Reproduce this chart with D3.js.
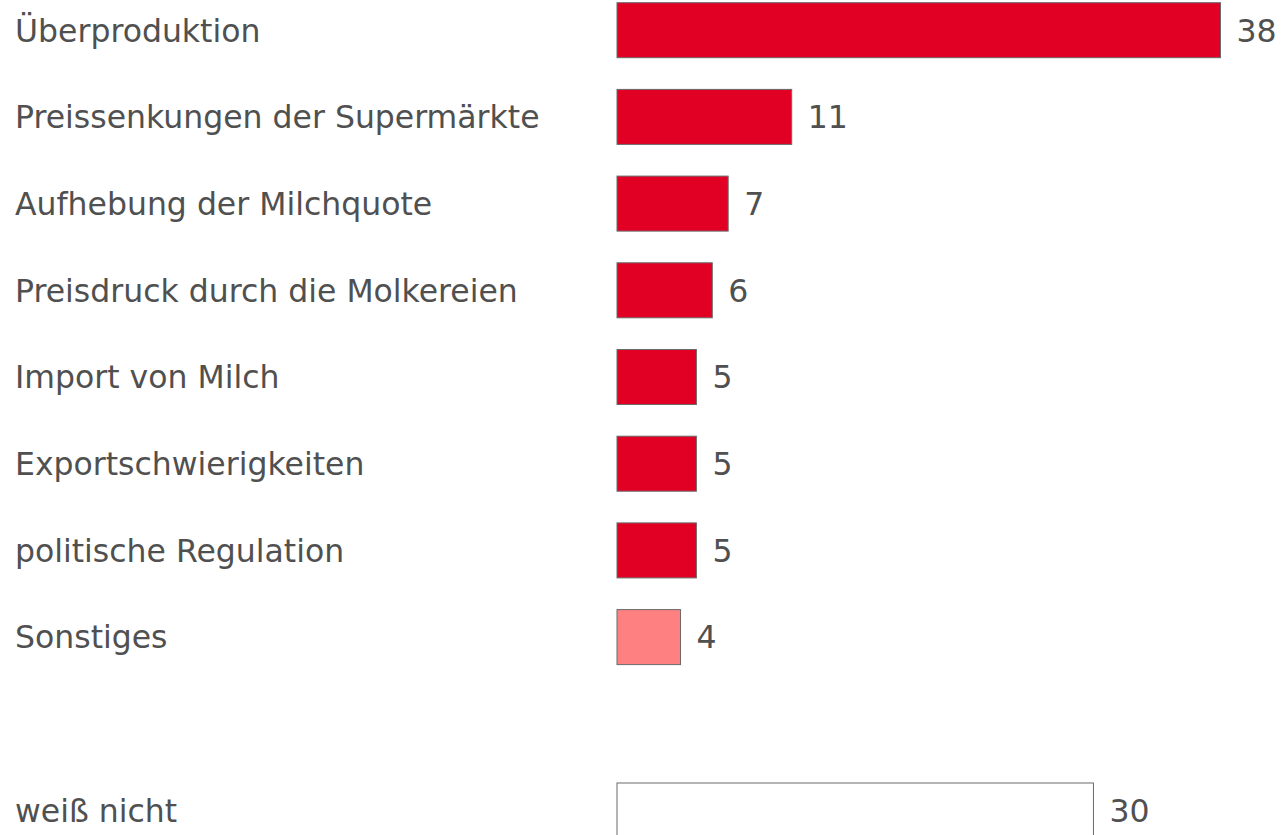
<!DOCTYPE html>
<html>
<head>
<meta charset="utf-8">
<script src="https://cdn.jsdelivr.net/npm/d3@7"></script>
<style>
  html, body { margin: 0; padding: 0; background: #fff; }
  svg { display: block; }
  text { font-family: "DejaVu Sans", Verdana, sans-serif; fill: #505050; }
</style>
</head>
<body>
<div id="chart"></div>
<script>
// Reasons named for the milk price crisis (percent of respondents)
const categories = [
  "Überproduktion",
  "Preissenkungen der Supermärkte",
  "Aufhebung der Milchquote",
  "Preisdruck durch die Molkereien",
  "Import von Milch",
  "Exportschwierigkeiten",
  "politische Regulation",
  "Sonstiges"
];
const values = [38, 11, 7, 6, 5, 5, 5, 4];
const groups = ["Grund", "Grund", "Grund", "Grund", "Grund", "Grund", "Grund", "Sonstiges"];

const unknownLabel = "weiß nicht";
const unknownValue = 30;

const width = 1281, height = 835;
const fontSize = 31.5;
const colors = { "Grund": "#e10024", "Sonstiges": "#ff8080", "weiß nicht": "#ffffff" };

const rows = categories.map((c, i) => ({ label: c, value: values[i], group: groups[i] }));
rows.push({ label: unknownLabel, value: unknownValue, group: "weiß nicht" });

// one empty slot separates "weiß nicht" from the named reasons
const slots = [...categories, "__gap__", unknownLabel];

const y = d3.scaleBand()
  .domain(slots)
  .range([2.7, 838])
  .paddingInner(0.3656)
  .paddingOuter(0);

const x = d3.scaleLinear()
  .domain([0, 38])
  .range([617, 1220.5]);

const svg = d3.select("#chart").append("svg")
  .attr("width", width)
  .attr("height", height);

svg.selectAll("rect.bar")
  .data(rows)
  .join("rect")
  .attr("class", "bar")
  .attr("x", x(0))
  .attr("y", d => y(d.label))
  .attr("width", d => x(d.value) - x(0))
  .attr("height", y.bandwidth())
  .attr("fill", d => colors[d.group])
  .attr("stroke", "#6a6a6a")
  .attr("stroke-width", 1);

svg.selectAll("text.cat")
  .data(rows)
  .join("text")
  .attr("class", "cat")
  .attr("x", 15)
  .attr("y", d => y(d.label) + y.bandwidth() / 2)
  .attr("dy", "0.36em")
  .attr("font-size", fontSize)
  .text(d => d.label);

svg.selectAll("text.val")
  .data(rows)
  .join("text")
  .attr("class", "val")
  .attr("x", d => x(d.value) + 16)
  .attr("y", d => y(d.label) + y.bandwidth() / 2)
  .attr("dy", "0.36em")
  .attr("font-size", fontSize)
  .text(d => d.value);
</script>
</body>
</html>
